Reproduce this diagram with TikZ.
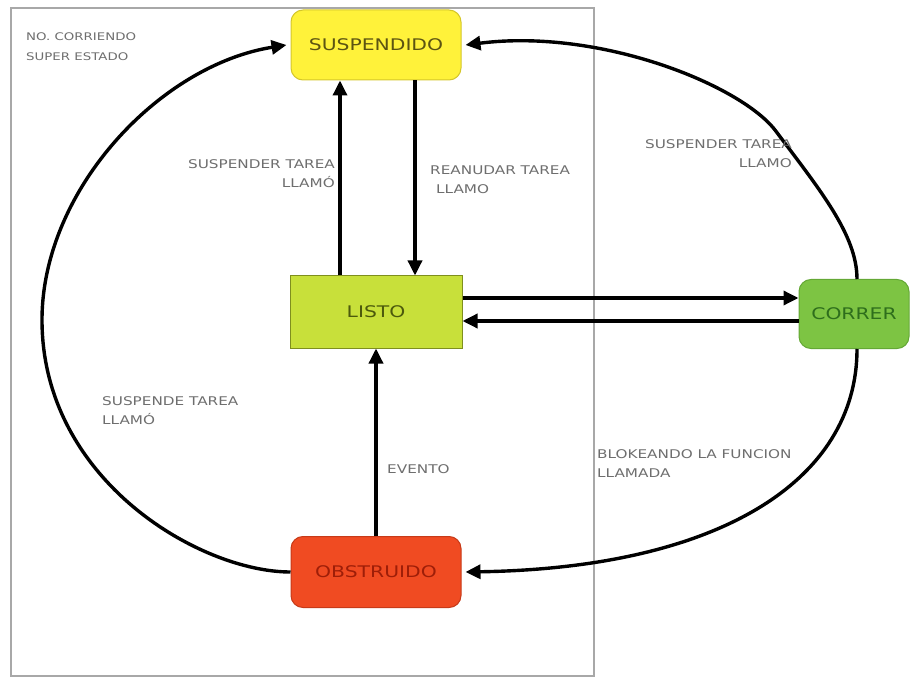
\documentclass[tikz,border=0pt]{standalone}
\usepackage{fontspec}
\usetikzlibrary{arrows.meta}
\newfontfamily\diagfont[FakeStretch=1.27]{DejaVu Sans}

\definecolor{suspfill}{HTML}{FFF23A}
\definecolor{suspdraw}{HTML}{D4C62A}
\definecolor{susptext}{HTML}{5C5412}
\definecolor{listofill}{HTML}{C8E03A}
\definecolor{listodraw}{HTML}{7F8F1E}
\definecolor{listotext}{HTML}{4C5A0C}
\definecolor{correrfill}{HTML}{7DC443}
\definecolor{correrdraw}{HTML}{64A835}
\definecolor{correrxt}{HTML}{2E6E1C}
\definecolor{obstfill}{HTML}{F04B22}
\definecolor{obstdraw}{HTML}{C73A18}
\definecolor{obsttext}{HTML}{9E1E08}
\definecolor{lblgray}{HTML}{6E6E6E}
\definecolor{framegray}{HTML}{A8A8A8}

\begin{document}
\begin{tikzpicture}[x=1pt,y=-1pt,
  state/.style={minimum width=170pt, minimum height=70pt, inner sep=0pt,
    line width=1pt, font=\diagfont\fontsize{16}{18}\selectfont},
  rstate/.style={state, rounded corners=12pt},
  arr/.style={line width=3.4pt, -{Triangle[length=15pt,width=14pt]}},
  lbl/.style={text=lblgray, inner sep=0pt,
    font=\diagfont\fontsize{12}{19}\selectfont},
]
\path[use as bounding box] (0,0) rectangle (911,679);

% "not running" super state frame (labels anchored on their last baseline)
\draw[framegray, line width=1.2pt] (11,8) rectangle (594,676);
\node[lbl, anchor=base west, align=left, font=\diagfont\fontsize{10.5}{20}\selectfont]
  (super) at (26,61) {NO. CORRIENDO\\SUPER ESTADO};

% states
\node[rstate, fill=suspfill, draw=suspdraw, text=susptext] (susp) at (376,45) {SUSPENDIDO};
\node[state, minimum width=172pt, minimum height=72pt, fill=listofill, draw=listodraw, text=listotext] (listo) at (376,312) {LISTO};
\node[rstate, minimum width=110pt, minimum height=69pt, fill=correrfill, draw=correrdraw, text=correrxt] (correr) at (854,314) {CORRER};
\node[rstate, minimum height=71pt, fill=obstfill, draw=obstdraw, text=obsttext] (obst) at (376,572) {OBSTRUIDO};

% straight transitions
\draw[arr] ([xshift=-36pt]listo.north) -- ([xshift=-36pt]listo.north |- susp.south);
\draw[arr] ([xshift=39pt]susp.south) -- ([xshift=39pt]susp.south |- listo.north);
\draw[arr] (obst.north) -- (listo.south);
\draw[arr] ([yshift=14pt]listo.east) -- ([yshift=14pt]listo.east -| correr.west);
\draw[arr] ([yshift=-9pt]listo.east -| correr.west) -- ([yshift=-9pt]listo.east);

% curved transitions
\draw[arr] ([xshift=3pt]correr.north) .. controls (857,235) and (820,190) .. (775,130)
  .. controls (740,85) and (600,28) .. ([xshift=4pt]susp.east);
\draw[arr] ([xshift=3pt]correr.south) .. controls (857,480) and (720,568) .. ([xshift=4pt]obst.east);
\draw[arr] (obst.west) .. controls (200,572) and (42,480) .. (42,320)
  .. controls (42,190) and (160,65) .. ([xshift=-4pt]susp.west);

% transition labels (anchored on the baseline of their last line)
\node[lbl, anchor=base east, align=right] (l1) at (335,187.4) {SUSPENDER TAREA\\LLAMÓ};
\node[lbl, anchor=base west, align=left] (l2) at (430,193.4) {REANUDAR TAREA\\\hspace*{6pt}LLAMO};
\node[lbl, anchor=base east, align=right] (l3) at (792,167.4) {SUSPENDER TAREA\\LLAMO};
\node[lbl, anchor=base west, align=left] (l4) at (102,424.4) {SUSPENDE TAREA\\LLAMÓ};
\node[lbl, anchor=base west] (l5) at (387,473.4) {EVENTO};
\node[lbl, anchor=base west, align=left] (l6) at (597,477.4) {BLOKEANDO LA FUNCION\\LLAMADA};
\end{tikzpicture}
\end{document}
